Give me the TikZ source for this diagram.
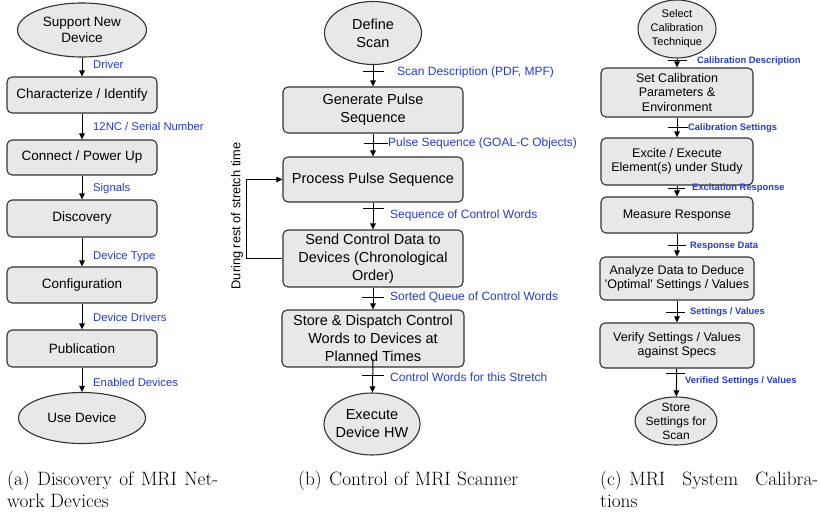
\documentclass[tikz,border=0pt]{standalone}
\usepackage{fontspec}
\newfontfamily\diafont{Liberation Sans}
\newfontfamily\capfont{Latin Modern Roman}
\usetikzlibrary{shapes.geometric,arrows.meta}
\definecolor{boxfill}{RGB}{232,232,232}
\definecolor{boxline}{RGB}{50,50,50}
\definecolor{lblblue}{RGB}{35,60,215}
\newcommand\fsz[2]{\fontsize{#1}{#2}\selectfont}

\begin{document}
\begin{tikzpicture}[x=1pt,y=-1pt,
  stepbox/.style n args={2}{draw=boxline, fill=boxfill, rounded corners=5pt,
    line width=1.1pt, inner sep=0pt, minimum width=#1, minimum height=#2, align=center},
  term/.style n args={2}{ellipse, draw=boxline, fill=boxfill, line width=1.1pt,
    inner sep=0pt, minimum width=#1, minimum height=#2},
  fa/.style={font=\diafont\fsz{13.5}{16}},
  fb/.style={font=\diafont\fsz{14.5}{18}},
  fc/.style={font=\diafont\fsz{12.5}{14.5}},
  flow/.style={draw=black, line width=1pt, -{Triangle[length=6pt,width=5.5pt]}},
  tickln/.style={draw=black, line width=1pt},
  lbl/.style={anchor=west, inner sep=0pt, text height=0.7em, text depth=0pt, text=lblblue},
  la/.style={lbl, font=\diafont\fsz{11.3}{13}},
  lb/.style={lbl, font=\diafont\fsz{12}{14}},
  lc/.style={lbl, font=\diafont\bfseries\fsz{9.4}{11}},
  captext/.style={font=\capfont\fsz{19.3}{22}, inner sep=0pt, align=justify, anchor=north west}
]
\useasboundingbox (0,0) rectangle (820,514);

% ---------- (a) discovery of network devices ----------
\node[term={129pt}{54pt}, label={[fa,align=center,name=supT]center:Support New\\Device}] (sup) at (82,30) {};
\node[stepbox={150pt}{36pt}, fa] (cha) at (82,95) {Characterize / Identify};
\node[stepbox={150pt}{35pt}, fa] (con) at (82,157.5) {Connect / Power Up};
\node[stepbox={150pt}{37pt}, fa] (dis) at (82,218.5) {Discovery};
\node[stepbox={150pt}{36pt}, fa] (cfg) at (82,285) {Configuration};
\node[stepbox={150pt}{37pt}, fa] (pub) at (82,348.5) {Publication};
\node[term={127pt}{51pt}, label={[fa,align=center,name=useT]center:Use Device}] (use) at (82,418) {};

\draw[flow] (sup) -- (cha);
\draw[flow] (cha) -- (con);
\draw[flow] (con) -- (dis);
\draw[flow] (dis) -- (cfg);
\draw[flow] (cfg) -- (pub);
\draw[flow] (pub) -- (use);

\node[la] (la1) at (93,65) {Driver};
\node[la] (la2) at (93,127) {12NC / Serial Number};
\node[la] (la3) at (93,188) {Signals};
\node[la] (la4) at (93,256) {Device Type};
\node[la] (la5) at (93,318) {Device Drivers};
\node[la] (la6) at (93,383) {Enabled Devices};

\node[captext, text width=211pt] (capa) at (7,470.5)
  {(a)\hspace{0.4em}Discovery of MRI Net-\linebreak work Devices};

% ---------- (b) scanner control ----------
\node[term={97pt}{63pt}, label={[fb,align=center,name=defT]center:Define\\Scan}] (def) at (373,33) {};
\node[stepbox={180pt}{46pt}, fb] (gen) at (373,110) {Generate Pulse\\Sequence};
\node[stepbox={180pt}{45pt}, fb] (prc) at (373,179.5) {Process Pulse Sequence};
\node[stepbox={180pt}{57pt}, fb] (snd) at (373,258.5) {Send Control Data to\\Devices (Chronological\\Order)};
\node[stepbox={182pt}{57pt}, fb] (sto) at (373,338.5) {Store \& Dispatch Control\\Words to Devices at\\Planned Times};
\node[term={96pt}{62pt}, label={[fb,align=center,name=exeT]center:Execute\\Device HW}] (exe) at (372,424) {};

\draw[flow] (def) -- (gen);
\draw[flow] (gen) -- (prc);
\draw[flow] (prc) -- (snd);
\draw[flow] (snd) -- (sto);
\draw[flow] ([yshift=9pt]sto.south) -- (exe);

% stretch feedback loop
\coordinate (fbk) at (246,0);
\draw[flow] (snd.west) -- (snd.west -| fbk) |- (prc.west);
\node[font=\diafont\fsz{12.8}{15}, rotate=90, inner sep=0pt] (rst) at (237,216) {During rest of stretch time};

% cross ticks on the data flows
\coordinate (tb1a) at (363,71);  \coordinate (tb1b) at (384,71);
\coordinate (tb2a) at (364,143); \coordinate (tb2b) at (388,143);
\coordinate (tb3a) at (363,208); \coordinate (tb3b) at (384,208);
\coordinate (tb4a) at (362,297); \coordinate (tb4b) at (384,297);
\coordinate (tb5a) at (362,375); \coordinate (tb5b) at (384,375);
\draw[tickln] (tb1a) -- (tb1b);
\draw[tickln] (tb2a) -- (tb2b);
\draw[tickln] (tb3a) -- (tb3b);
\draw[tickln] (tb4a) -- (tb4b);
\draw[tickln] (tb5a) -- (tb5b);

\node[lb] (lb1) at (397,72) {Scan Description (PDF, MPF)};
\node[lb] (lb2) at (388,143) {Pulse Sequence (GOAL-C Objects)};
\node[lb] (lb3) at (390,215) {Sequence of Control Words};
\node[lb] (lb4) at (390,297) {Sorted Queue of Control Words};
\node[lb] (lb5) at (390,378) {Control Words for this Stretch};

\node[captext, text width=240pt, align=left] (capb) at (298,470.5)
  {(b)\hspace{0.4em}Control of MRI Scanner};

% ---------- (c) system calibration ----------
\node[term={78pt}{58pt}, label={[font=\diafont\fsz{11}{14},align=center,name=selT]center:Select\\Calibration\\Technique}] (sel) at (677,29) {};
\node[stepbox={152pt}{49pt}, fc] (set) at (677,92.5) {Set Calibration\\Parameters \&\\Environment};
\node[stepbox={152pt}{47pt}, fc] (exc) at (677,161.5) {Excite / Execute\\Element(s) under Study};
\node[stepbox={152pt}{36pt}, fc] (mea) at (677,215) {Measure Response};
\node[stepbox={154pt}{43pt}, fc] (ana) at (677,278.5) {Analyze Data to Deduce\\'Optimal' Settings / Values};
\node[stepbox={154pt}{45pt}, fc] (ver) at (677,345.5) {Verify Settings / Values\\against Specs};
\node[term={82pt}{48pt}, label={[font=\diafont\fsz{12}{14},align=center,name=stsT]center:Store\\Settings for\\Scan}] (sts) at (676,421) {};

\draw[flow] (sel) -- (set);
\draw[flow] (set) -- (exc);
\draw[flow] (exc) -- (mea);
\draw[flow] (mea) -- (ana);
\draw[flow] (ana) -- (ver);
\draw[flow] (ver) -- (sts);

\coordinate (tc1a) at (668,60);  \coordinate (tc1b) at (687,60);
\coordinate (tc2a) at (668,127); \coordinate (tc2b) at (688,127);
\coordinate (tc3a) at (668,188); \coordinate (tc3b) at (685,188);
\coordinate (tc4a) at (668,245); \coordinate (tc4b) at (686,245);
\coordinate (tc5a) at (666,312); \coordinate (tc5b) at (685,312);
\coordinate (tc6a) at (666,373); \coordinate (tc6b) at (685,373);
\draw[tickln] (tc1a) -- (tc1b);
\draw[tickln] (tc2a) -- (tc2b);
\draw[tickln] (tc3a) -- (tc3b);
\draw[tickln] (tc4a) -- (tc4b);
\draw[tickln] (tc5a) -- (tc5b);
\draw[tickln] (tc6a) -- (tc6b);

\node[lc] (lc1) at (697,60) {Calibration Description};
\node[lc] (lc2) at (688,127) {Calibration Settings};
\node[lc] (lc3) at (692,187) {Excitation Response};
\node[lc] (lc4) at (690,245) {Response Data};
\node[lc] (lc5) at (690,311) {Settings / Values};
\node[lc] (lc6) at (685,380) {Verified Settings / Values};

\node[captext, text width=218pt] (capc) at (600,470.5)
  {(c)\hspace{0.4em}MRI System Calibra-\linebreak tions};
\end{tikzpicture}
\end{document}
